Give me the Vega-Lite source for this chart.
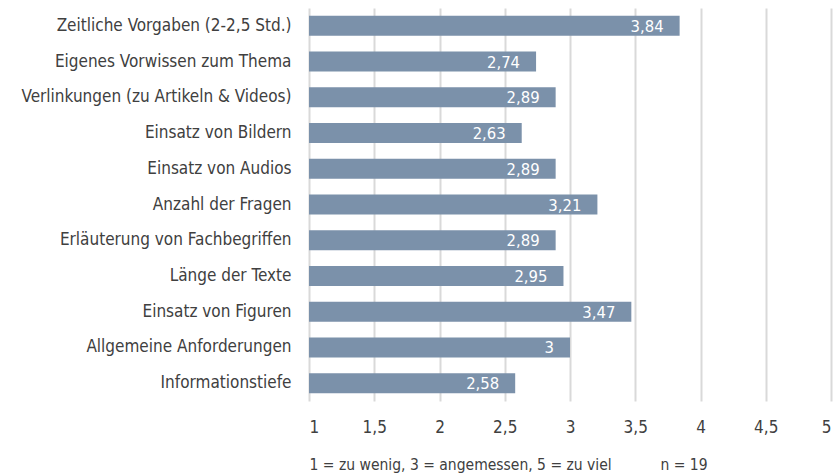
{
  "$schema": "https://vega.github.io/schema/vega-lite/v6.json",
  "autosize": {"type": "none"},
  "padding": {"left": 309, "top": 8, "right": 3, "bottom": 73},
  "width": 522,
  "height": 393,
  "background": "white",
  "config": {
    "view": {"stroke": null},
    "font": "DejaVu Sans Condensed, Liberation Sans, sans-serif",
    "text": {"font": "DejaVu Sans Condensed, Liberation Sans, sans-serif"}
  },
  "data": {
    "values": [
      {"item": "Zeitliche Vorgaben (2-2,5 Std.)", "value": 3.84},
      {"item": "Eigenes Vorwissen zum Thema", "value": 2.74},
      {"item": "Verlinkungen (zu Artikeln & Videos)", "value": 2.89},
      {"item": "Einsatz von Bildern", "value": 2.63},
      {"item": "Einsatz von Audios", "value": 2.89},
      {"item": "Anzahl der Fragen", "value": 3.21},
      {"item": "Erläuterung von Fachbegriffen", "value": 2.89},
      {"item": "Länge der Texte", "value": 2.95},
      {"item": "Einsatz von Figuren", "value": 3.47},
      {"item": "Allgemeine Anforderungen", "value": 3},
      {"item": "Informationstiefe", "value": 2.58}
    ]
  },
  "encoding": {
    "y": {
      "field": "item",
      "type": "nominal",
      "sort": null,
      "scale": {"paddingInner": 0.44, "paddingOuter": 0.22},
      "axis": {
        "title": null,
        "domain": false,
        "ticks": false,
        "labelPadding": 18,
        "labelFontSize": 17,
        "labelColor": "#404040",
        "labelFont": "DejaVu Sans Condensed, Liberation Sans, sans-serif",
        "labelLimit": 400
      }
    }
  },
  "layer": [
    {
      "mark": {"type": "bar", "color": "#7b91aa"},
      "encoding": {
        "x": {
          "field": "value",
          "type": "quantitative",
          "scale": {"domain": [1, 5], "nice": false, "zero": false},
          "axis": {
            "values": [1, 1.5, 2, 2.5, 3, 3.5, 4, 4.5, 5],
            "labelExpr": "replace(toString(datum.value), '.', ',')",
            "domain": false,
            "ticks": false,
            "grid": true,
            "gridColor": "#d9d9d9",
            "gridWidth": 2,
            "labelPadding": 18,
            "labelFontSize": 17,
            "labelColor": "#404040",
            "labelFont": "DejaVu Sans Condensed, Liberation Sans, sans-serif",
            "title": "1 = zu wenig, 3 = angemessen, 5 = zu viel\u00a0\u00a0\u00a0\u00a0\u00a0\u00a0\u00a0\u00a0\u00a0\u00a0\u00a0n = 19",
            "titleAnchor": "start",
            "titleFontWeight": "normal",
            "titleFontSize": 15.5,
            "titleColor": "#404040",
            "titleFont": "DejaVu Sans Condensed, Liberation Sans, sans-serif",
            "titlePadding": 22
          }
        },
        "x2": {"datum": 1}
      }
    },
    {
      "mark": {
        "type": "text",
        "align": "right",
        "baseline": "middle",
        "dx": -16,
        "dy": 1,
        "color": "white",
        "fontSize": 16.5,
        "text": {"expr": "replace(toString(datum.value), '.', ',')"}
      },
      "encoding": {
        "x": {"field": "value", "type": "quantitative"}
      }
    }
  ]
}
